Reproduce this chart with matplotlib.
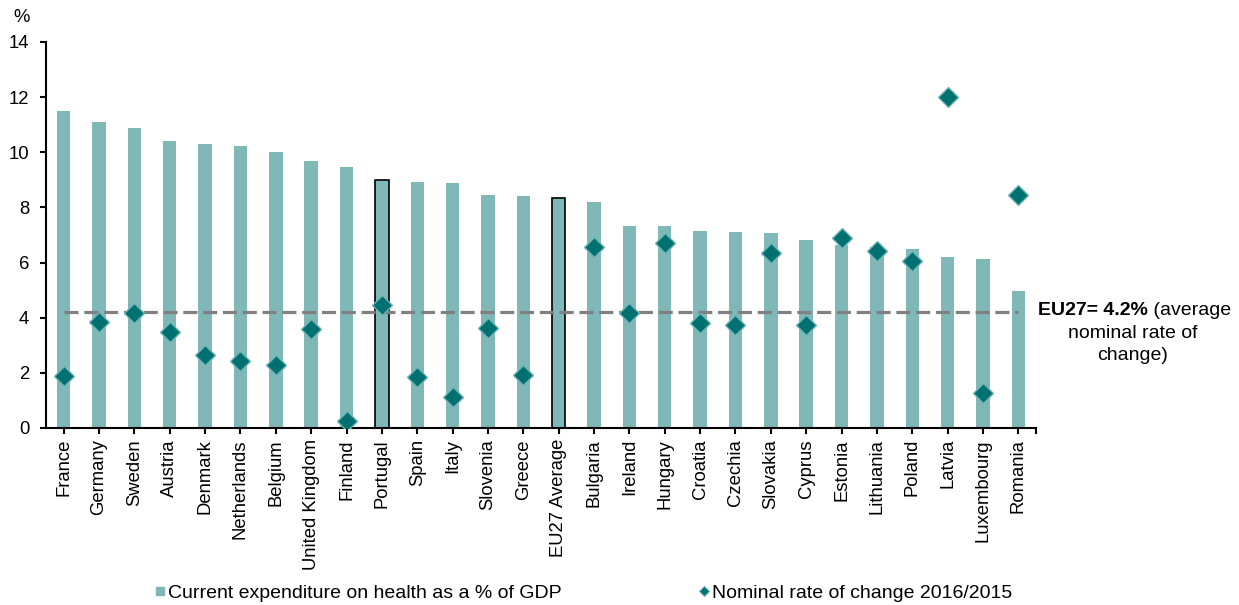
import numpy as np
import matplotlib
matplotlib.use("Agg")
import matplotlib.pyplot as plt
from matplotlib.lines import Line2D

plt.rcParams['font.family'] = ['Liberation Sans', 'DejaVu Sans']

countries = ["France", "Germany", "Sweden", "Austria", "Denmark", "Netherlands",
             "Belgium", "United Kingdom", "Finland", "Portugal", "Spain", "Italy",
             "Slovenia", "Greece", "EU27 Average", "Bulgaria", "Ireland", "Hungary",
             "Croatia", "Czechia", "Slovakia", "Cyprus", "Estonia", "Lithuania",
             "Poland", "Latvia", "Luxembourg", "Romania"]
expenditure = [11.50, 11.10, 10.89, 10.40, 10.31, 10.24, 10.00, 9.68, 9.46, 9.01,
               8.94, 8.90, 8.44, 8.40, 8.35, 8.19, 7.33, 7.31, 7.13, 7.10, 7.06,
               6.83, 6.64, 6.55, 6.48, 6.19, 6.12, 4.96]
rate_change = [1.87, 3.83, 4.16, 3.47, 2.65, 2.42, 2.30, 3.59, 0.27, 4.45, 1.84,
               1.12, 3.64, 1.91, np.nan, 6.58, 4.17, 6.71, 3.81, 3.74, 6.36, 3.74,
               6.90, 6.42, 6.07, 12.02, 1.26, 8.45]
eu27_avg_rate = 4.2
highlighted = ["Portugal", "EU27 Average"]

bar_color = "#80b7b7"
marker_color = "#007070"
marker_edge = "#6fb5b5"

W, H = 1239, 605
fig = plt.figure(figsize=(W / 100, H / 100), dpi=100)
ax = fig.add_axes([46 / W, 1 - 428 / H, 990 / W, 386 / H])

x = np.arange(len(countries))
edgecolors = ["black" if c in highlighted else bar_color for c in countries]
linewidths = [1.2 if c in highlighted else 0.0 for c in countries]
ax.bar(x, expenditure, width=0.38, color=bar_color, edgecolor=edgecolors,
       linewidth=linewidths, zorder=2)

ax.plot([x[0], x[-1]], [eu27_avg_rate, eu27_avg_rate], color="#808080",
        lw=2.3, dashes=(4.4, 1.8), zorder=3)

ax.plot(x, rate_change, linestyle="none", marker="D", ms=10.5,
        markerfacecolor=marker_color, markeredgecolor=marker_edge, mew=1.0, zorder=4)

ax.set_xlim(-0.5, len(countries) - 0.5)
ax.set_ylim(0, 14)
ax.set_yticks(np.arange(0, 15, 2))
ax.set_xticks(x)
ax.set_xticklabels(countries, rotation=90, fontsize=13.3)
ax.set_xticks([len(countries) - 0.5], minor=True)
ax.tick_params(axis='x', which='both', length=4, width=1.5, direction='out', pad=4)
ax.tick_params(axis='y', length=4, width=1.5, direction='out', pad=8, labelsize=13.3)

for s in ["top", "right"]:
    ax.spines[s].set_visible(False)
for s in ["left", "bottom"]:
    ax.spines[s].set_linewidth(1.5)

fig.text(13 / W, 1 - 18 / H, "%", fontsize=13.3, ha="left", va="center")

# annotation for EU27 average
fs_ann = 14
t1 = fig.text(1038 / W, 1 - 315 / H, "EU27= 4.2%", fontsize=fs_ann,
              fontweight="bold", ha="left", va="baseline")
ax.annotate(" (average", xy=(1, 0), xycoords=t1, ha="left", va="bottom",
            fontsize=fs_ann)
fig.text(1133 / W, 1 - 337.5 / H, "nominal rate of", fontsize=fs_ann,
         ha="center", va="baseline")
fig.text(1133 / W, 1 - 360 / H, "change)", fontsize=fs_ann,
         ha="center", va="baseline")

handles = [Line2D([], [], linestyle="none", marker="s", ms=6,
                  markerfacecolor=bar_color, markeredgecolor=bar_color),
           Line2D([], [], linestyle="none", marker="D", ms=5.5,
                  markerfacecolor=marker_color, markeredgecolor=marker_edge, mew=0.8)]
labels = ["Current expenditure on health as a % of GDP",
          "Nominal rate of change 2016/2015"]
fig.legend(handles, labels, loc="center left", bbox_to_anchor=(154 / W, 1 - 593 / H),
           ncol=2, frameon=False, fontsize=14, handlelength=0.6,
           handletextpad=0.1, columnspacing=7.05, borderpad=0, borderaxespad=0)

fig.savefig("out.png", dpi=100)
